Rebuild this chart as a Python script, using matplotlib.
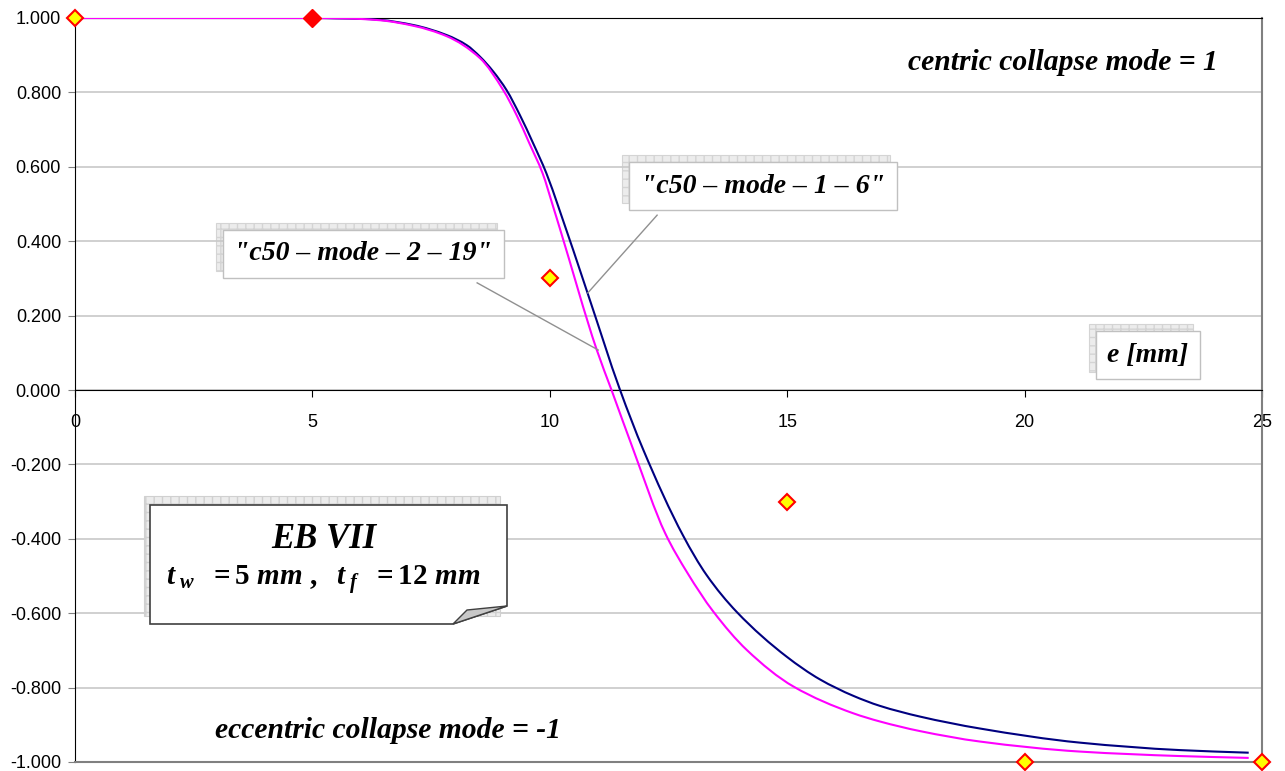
import matplotlib
matplotlib.use("Agg")
import matplotlib.pyplot as plt
from matplotlib import font_manager as fm
from matplotlib.patches import Polygon, PathPatch, Rectangle
from matplotlib.path import Path
import matplotlib.transforms as mtransforms

# curve readings (e [mm], collapse mode indicator)
blue_x = [0, 5, 5.5, 6, 6.42, 7.13, 7.83, 8.25, 8.53, 8.81, 9.09, 9.37, 9.65, 9.93,
          10.18, 10.81, 11.48, 11.97, 12.81, 13.3, 13.94, 14.99, 15.69, 16.39, 16.95,
          17.8, 19.06, 21.17, 23.27, 24.72]
blue_y = [1.0, 1.0, 0.999, 0.998, 0.995, 0.981, 0.954, 0.927, 0.896, 0.856, 0.806,
          0.739, 0.663, 0.582, 0.493, 0.255, 0.0, -0.161, -0.392, -0.497, -0.597,
          -0.717, -0.778, -0.822, -0.849, -0.878, -0.910, -0.948, -0.968, -0.975]

magenta_x = [0, 5, 5.7, 6.42, 7.13, 7.83, 8.53, 9.02, 9.30, 9.57, 9.85, 10.07, 10.21,
             10.99, 11.30, 11.76, 12.43, 12.9, 13.44, 14.15, 15.13, 16.39, 16.95, 17.8,
             19.06, 21.17, 23.27, 24.72]
magenta_y = [1.0, 1.0, 0.999, 0.994, 0.979, 0.951, 0.892, 0.806, 0.739, 0.663, 0.582,
             0.493, 0.435, 0.1075, 0.0, -0.161, -0.385, -0.492, -0.595, -0.699, -0.797,
             -0.869, -0.891, -0.917, -0.945, -0.972, -0.984, -0.989]

# discrete points
pts_x = [0, 10, 15, 20, 25]
pts_y = [1.0, 0.3, -0.3, -1.0, -1.0]
red_x = [5]
red_y = [1.0]

x_ticks = [0, 5, 10, 15, 20, 25]
y_ticks = [1.0, 0.8, 0.6, 0.4, 0.2, 0.0, -0.2, -0.4, -0.6, -0.8, -1.0]


def serif_font():
    for f in fm.findSystemFonts():
        if 'LiberationSerif-BoldItalic' in f:
            return f
    return None


bi_file = serif_font()


def bi(size):
    if bi_file:
        return dict(fontproperties=fm.FontProperties(fname=bi_file, size=size))
    return dict(family='Liberation Serif', weight='bold', style='italic', fontsize=size)


def smooth_path(xs, ys):
    # monotone cubic (Fritsch-Carlson) through the read points, as Bezier segments
    n = len(xs)
    h = [xs[i + 1] - xs[i] for i in range(n - 1)]
    d = [(ys[i + 1] - ys[i]) / h[i] for i in range(n - 1)]
    m = [d[0]] + [0.0] * (n - 2) + [d[-1]]
    for i in range(1, n - 1):
        if d[i - 1] * d[i] <= 0:
            m[i] = 0.0
        else:
            w1 = 2 * h[i] + h[i - 1]
            w2 = h[i] + 2 * h[i - 1]
            m[i] = (w1 + w2) / (w1 / d[i - 1] + w2 / d[i])
    verts = [(xs[0], ys[0])]
    codes = [Path.MOVETO]
    for i in range(n - 1):
        verts += [(xs[i] + h[i] / 3, ys[i] + m[i] * h[i] / 3),
                  (xs[i + 1] - h[i] / 3, ys[i + 1] - m[i + 1] * h[i] / 3),
                  (xs[i + 1], ys[i + 1])]
        codes += [Path.CURVE4] * 3
    return Path(verts, codes)


plt.rcParams['mathtext.fontset'] = 'custom'
plt.rcParams['mathtext.rm'] = 'Liberation Serif:bold'
plt.rcParams['mathtext.it'] = 'Liberation Serif:bold:italic'

fig = plt.figure(figsize=(12.85, 7.71), dpi=100)
ax = fig.add_axes([75 / 1285, 1 - 762 / 771, (1262 - 75) / 1285, (762 - 18) / 771])

ax.spines['bottom'].set_position(('data', 0))
ax.spines['bottom'].set_color('black')
ax.spines['left'].set_color('black')
ax.spines['top'].set_color('black')
ax.spines['right'].set_color('#808080')
ax.spines['right'].set_linewidth(1.5)
ax.plot([0, 1], [0, 0], transform=ax.transAxes, color='#808080', lw=1.5, clip_on=False, zorder=3)

ax.set_xlim(0, 25)
ax.set_ylim(-1, 1)
ax.set_yticks(y_ticks)
ax.set_yticklabels(['%.3f' % v for v in y_ticks], family='Liberation Sans', fontsize=13)
ax.set_xticks(x_ticks)
ax.set_xticklabels([str(v) for v in x_ticks], family='Liberation Sans', fontsize=13)
ax.grid(axis='y', color='#c8c8c8', lw=1.2)
ax.set_axisbelow(True)

ax.tick_params(axis='y', direction='out', length=5, color='#808080', pad=5)
ax.tick_params(axis='x', direction='out', length=5, color='black', pad=12)

ax.add_patch(PathPatch(smooth_path(blue_x, blue_y), fill=False, ec='#000080', lw=1.5, zorder=4))
ax.add_patch(PathPatch(smooth_path(magenta_x, magenta_y), fill=False, ec='#ff00ff', lw=1.5,
                       zorder=5))
ax.plot(pts_x, pts_y, ls='none', marker='D', ms=8.5, mfc='#ffff00', mec='#ff0000', mew=1.5,
        clip_on=False, zorder=6)
ax.plot(red_x, red_y, ls='none', marker='D', ms=9.5, mfc='#ff0000', mec='#ff0000',
        clip_on=False, zorder=7)

ax.text(0.963, 0.94, 'centric collapse mode = 1', transform=ax.transAxes,
        ha='right', va='center', **bi(21.3))
ax.text(0.118, 0.043, 'eccentric collapse mode = -1', transform=ax.transAxes,
        ha='left', va='center', **bi(21.3))

boxed = []


def label_box(x, y, s, size, pad):
    t = ax.text(x, y, s, ha='center', va='center',
                bbox=dict(boxstyle='square,pad=%g' % pad, fc='white', ec='#c0c0c0', lw=1),
                zorder=9, **bi(size))
    boxed.append(t)


label_box(14.49, 0.548, '"c50 \u2013 mode \u2013 1 \u2013 6"', 20, 0.42)
label_box(6.07, 0.366, '"c50 \u2013 mode \u2013 2 \u2013 19"', 20, 0.42)
label_box(22.6, 0.094, 'e [mm]', 20, 0.42)

# leader lines
ax.plot([12.26, 10.80], [0.470, 0.261], color='#909090', lw=1, zorder=8)
ax.plot([8.47, 11.02], [0.288, 0.1075], color='#909090', lw=1, zorder=8)

# shadows behind the label boxes, offset up-left
fig.canvas.draw()
for t in boxed:
    bb = t.get_bbox_patch().get_window_extent()
    fig.patches.append(Rectangle((bb.x0 - 7, bb.y0 + 7), bb.width, bb.height,
                                 transform=mtransforms.IdentityTransform(),
                                 fc='#ececec', ec='#d4d4d4', hatch='++', lw=0.8, zorder=0.5))
ax.set_zorder(1)
ax.patch.set_alpha(0)


# EB VII callout with folded corner (figure pixel layout)
def px(p):
    return (p[0] / 1285, 1 - p[1] / 771)


shadow_pts = [px(p) for p in [(144, 496), (500, 496), (500, 616), (144, 616)]]
fig.patches.append(Polygon(shadow_pts, closed=True, transform=fig.transFigure,
                           fc='#ececec', ec='#d0d0d0', hatch='++', lw=0.8, zorder=10))
box_pts = [px(p) for p in [(150, 505), (507, 505), (507, 606), (453, 624), (150, 624)]]
fig.patches.append(Polygon(box_pts, closed=True, transform=fig.transFigure,
                           fc='white', ec='#404040', lw=1.2, zorder=11))
fold_pts = [px(p) for p in [(453, 624), (467, 610), (507, 606)]]
fig.patches.append(Polygon(fold_pts, closed=True, transform=fig.transFigure,
                           fc='#c8c8c8', ec='#404040', lw=1, zorder=12))

fig.text(*px((324, 539)), 'EB VII', ha='center', va='center', zorder=13, **bi(25))
fig.text(*px((323, 580)), r'$t_{\ w}\ \ =5\ mm\ ,\ \ t_{\ f}\ \ =12\ mm$', ha='center',
         va='center', fontsize=21, zorder=13)

fig.savefig('out.png', dpi=100)
